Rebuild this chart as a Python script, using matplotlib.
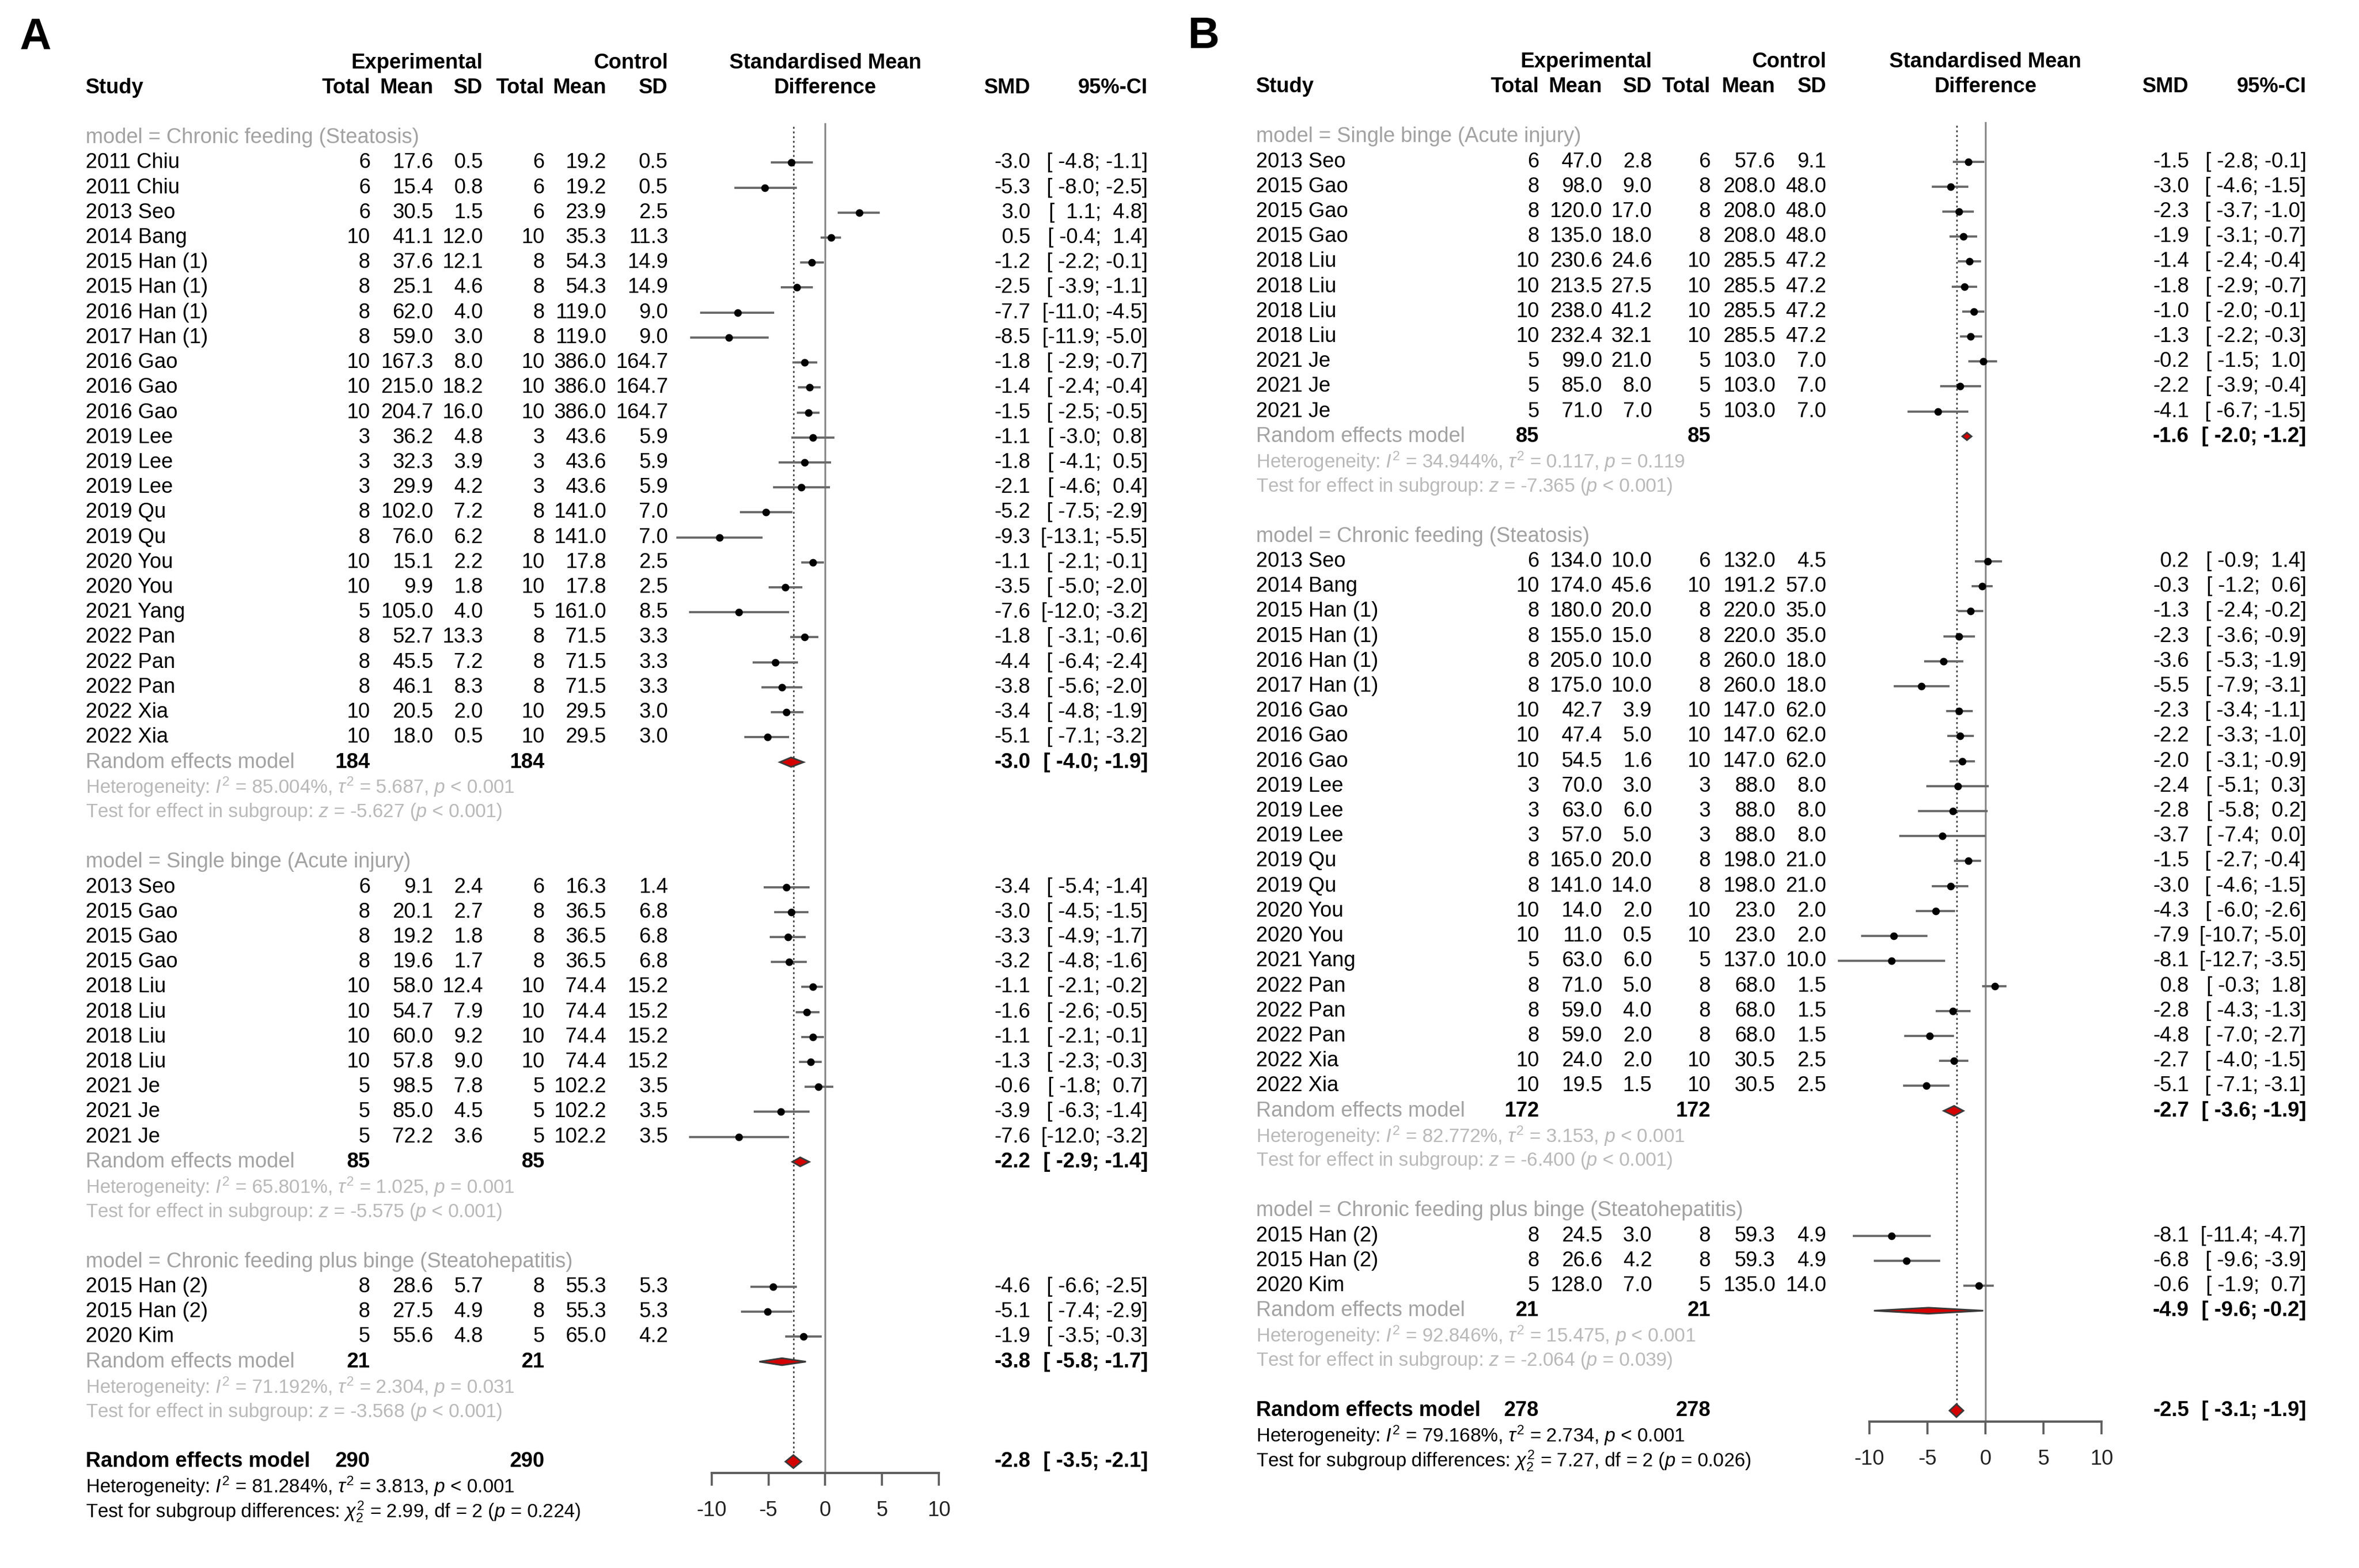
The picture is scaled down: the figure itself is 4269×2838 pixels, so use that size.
import matplotlib
matplotlib.use("Agg")
import matplotlib.pyplot as plt
from matplotlib.transforms import blended_transform_factory

plt.rcParams['font.family'] = ['Liberation Sans', 'DejaVu Sans']
plt.rcParams['mathtext.fontset'] = 'custom'
plt.rcParams['mathtext.rm'] = 'Liberation Sans'
plt.rcParams['mathtext.it'] = 'Liberation Sans:italic'
plt.rcParams['mathtext.bf'] = 'Liberation Sans:bold'
plt.rcParams['axes.unicode_minus'] = False

# ---------------- panel A data ----------------
a_groups = ["Chronic feeding (Steatosis)", "Single binge (Acute injury)",
            "Chronic feeding plus binge (Steatohepatitis)"]
a_sizes = [24, 11, 3]
a_study = ["2011 Chiu", "2011 Chiu", "2013 Seo", "2014 Bang", "2015 Han (1)", "2015 Han (1)",
           "2016 Han (1)", "2017 Han (1)", "2016 Gao", "2016 Gao", "2016 Gao", "2019 Lee",
           "2019 Lee", "2019 Lee", "2019 Qu", "2019 Qu", "2020 You", "2020 You", "2021 Yang",
           "2022 Pan", "2022 Pan", "2022 Pan", "2022 Xia", "2022 Xia",
           "2013 Seo", "2015 Gao", "2015 Gao", "2015 Gao", "2018 Liu", "2018 Liu", "2018 Liu",
           "2018 Liu", "2021 Je", "2021 Je", "2021 Je",
           "2015 Han (2)", "2015 Han (2)", "2020 Kim"]
a_n_e = [6, 6, 6, 10, 8, 8, 8, 8, 10, 10, 10, 3, 3, 3, 8, 8, 10, 10, 5, 8, 8, 8, 10, 10,
         6, 8, 8, 8, 10, 10, 10, 10, 5, 5, 5, 8, 8, 5]
a_mean_e = [17.6, 15.4, 30.5, 41.1, 37.6, 25.1, 62.0, 59.0, 167.3, 215.0, 204.7, 36.2, 32.3,
            29.9, 102.0, 76.0, 15.1, 9.9, 105.0, 52.7, 45.5, 46.1, 20.5, 18.0,
            9.1, 20.1, 19.2, 19.6, 58.0, 54.7, 60.0, 57.8, 98.5, 85.0, 72.2, 28.6, 27.5, 55.6]
a_sd_e = [0.5, 0.8, 1.5, 12.0, 12.1, 4.6, 4.0, 3.0, 8.0, 18.2, 16.0, 4.8, 3.9, 4.2, 7.2, 6.2,
          2.2, 1.8, 4.0, 13.3, 7.2, 8.3, 2.0, 0.5,
          2.4, 2.7, 1.8, 1.7, 12.4, 7.9, 9.2, 9.0, 7.8, 4.5, 3.6, 5.7, 4.9, 4.8]
a_n_c = [6, 6, 6, 10, 8, 8, 8, 8, 10, 10, 10, 3, 3, 3, 8, 8, 10, 10, 5, 8, 8, 8, 10, 10,
         6, 8, 8, 8, 10, 10, 10, 10, 5, 5, 5, 8, 8, 5]
a_mean_c = [19.2, 19.2, 23.9, 35.3, 54.3, 54.3, 119.0, 119.0, 386.0, 386.0, 386.0, 43.6, 43.6,
            43.6, 141.0, 141.0, 17.8, 17.8, 161.0, 71.5, 71.5, 71.5, 29.5, 29.5,
            16.3, 36.5, 36.5, 36.5, 74.4, 74.4, 74.4, 74.4, 102.2, 102.2, 102.2, 55.3, 55.3, 65.0]
a_sd_c = [0.5, 0.5, 2.5, 11.3, 14.9, 14.9, 9.0, 9.0, 164.7, 164.7, 164.7, 5.9, 5.9, 5.9, 7.0,
          7.0, 2.5, 2.5, 8.5, 3.3, 3.3, 3.3, 3.0, 3.0,
          1.4, 6.8, 6.8, 6.8, 15.2, 15.2, 15.2, 15.2, 3.5, 3.5, 3.5, 5.3, 5.3, 4.2]
a_smd = [-3.0, -5.3, 3.0, 0.5, -1.2, -2.5, -7.7, -8.5, -1.8, -1.4, -1.5, -1.1, -1.8, -2.1,
         -5.2, -9.3, -1.1, -3.5, -7.6, -1.8, -4.4, -3.8, -3.4, -5.1,
         -3.4, -3.0, -3.3, -3.2, -1.1, -1.6, -1.1, -1.3, -0.6, -3.9, -7.6, -4.6, -5.1, -1.9]
a_lo = [-4.8, -8.0, 1.1, -0.4, -2.2, -3.9, -11.0, -11.9, -2.9, -2.4, -2.5, -3.0, -4.1, -4.6,
        -7.5, -13.1, -2.1, -5.0, -12.0, -3.1, -6.4, -5.6, -4.8, -7.1,
        -5.4, -4.5, -4.9, -4.8, -2.1, -2.6, -2.1, -2.3, -1.8, -6.3, -12.0, -6.6, -7.4, -3.5]
a_hi = [-1.1, -2.5, 4.8, 1.4, -0.1, -1.1, -4.5, -5.0, -0.7, -0.4, -0.5, 0.8, 0.5, 0.4,
        -2.9, -5.5, -0.1, -2.0, -3.2, -0.6, -2.4, -2.0, -1.9, -3.2,
        -1.4, -1.5, -1.7, -1.6, -0.2, -0.5, -0.1, -0.3, 0.7, -1.4, -3.2, -2.5, -2.9, -0.3]
a_sub_n = [184, 85, 21]
a_sub_smd = [-3.0, -2.2, -3.8]
a_sub_lo = [-4.0, -2.9, -5.8]
a_sub_hi = [-1.9, -1.4, -1.7]
a_sub_i2 = ["85.004%", "65.801%", "71.192%"]
a_sub_tau2 = ["5.687", "1.025", "2.304"]
a_sub_p = ["< 0.001", "= 0.001", "= 0.031"]
a_sub_z = ["-5.627", "-5.575", "-3.568"]
a_sub_zp = ["< 0.001", "< 0.001", "< 0.001"]
a_tot_n = 290
a_tot = [-2.8, -3.5, -2.1]
a_tot_het = ["81.284%", "3.813", "< 0.001"]
a_tot_chi = ["2.99", "2", "0.224"]

# ---------------- panel B data ----------------
b_groups = ["Single binge (Acute injury)", "Chronic feeding (Steatosis)",
            "Chronic feeding plus binge (Steatohepatitis)"]
b_sizes = [11, 22, 3]
b_study = ["2013 Seo", "2015 Gao", "2015 Gao", "2015 Gao", "2018 Liu", "2018 Liu", "2018 Liu",
           "2018 Liu", "2021 Je", "2021 Je", "2021 Je",
           "2013 Seo", "2014 Bang", "2015 Han (1)", "2015 Han (1)", "2016 Han (1)",
           "2017 Han (1)", "2016 Gao", "2016 Gao", "2016 Gao", "2019 Lee", "2019 Lee",
           "2019 Lee", "2019 Qu", "2019 Qu", "2020 You", "2020 You", "2021 Yang", "2022 Pan",
           "2022 Pan", "2022 Pan", "2022 Xia", "2022 Xia",
           "2015 Han (2)", "2015 Han (2)", "2020 Kim"]
b_n_e = [6, 8, 8, 8, 10, 10, 10, 10, 5, 5, 5,
         6, 10, 8, 8, 8, 8, 10, 10, 10, 3, 3, 3, 8, 8, 10, 10, 5, 8, 8, 8, 10, 10,
         8, 8, 5]
b_mean_e = [47.0, 98.0, 120.0, 135.0, 230.6, 213.5, 238.0, 232.4, 99.0, 85.0, 71.0,
            134.0, 174.0, 180.0, 155.0, 205.0, 175.0, 42.7, 47.4, 54.5, 70.0, 63.0, 57.0,
            165.0, 141.0, 14.0, 11.0, 63.0, 71.0, 59.0, 59.0, 24.0, 19.5,
            24.5, 26.6, 128.0]
b_sd_e = [2.8, 9.0, 17.0, 18.0, 24.6, 27.5, 41.2, 32.1, 21.0, 8.0, 7.0,
          10.0, 45.6, 20.0, 15.0, 10.0, 10.0, 3.9, 5.0, 1.6, 3.0, 6.0, 5.0, 20.0, 14.0,
          2.0, 0.5, 6.0, 5.0, 4.0, 2.0, 2.0, 1.5,
          3.0, 4.2, 7.0]
b_n_c = [6, 8, 8, 8, 10, 10, 10, 10, 5, 5, 5,
         6, 10, 8, 8, 8, 8, 10, 10, 10, 3, 3, 3, 8, 8, 10, 10, 5, 8, 8, 8, 10, 10,
         8, 8, 5]
b_mean_c = [57.6, 208.0, 208.0, 208.0, 285.5, 285.5, 285.5, 285.5, 103.0, 103.0, 103.0,
            132.0, 191.2, 220.0, 220.0, 260.0, 260.0, 147.0, 147.0, 147.0, 88.0, 88.0, 88.0,
            198.0, 198.0, 23.0, 23.0, 137.0, 68.0, 68.0, 68.0, 30.5, 30.5,
            59.3, 59.3, 135.0]
b_sd_c = [9.1, 48.0, 48.0, 48.0, 47.2, 47.2, 47.2, 47.2, 7.0, 7.0, 7.0,
          4.5, 57.0, 35.0, 35.0, 18.0, 18.0, 62.0, 62.0, 62.0, 8.0, 8.0, 8.0, 21.0, 21.0,
          2.0, 2.0, 10.0, 1.5, 1.5, 1.5, 2.5, 2.5,
          4.9, 4.9, 14.0]
b_smd = [-1.5, -3.0, -2.3, -1.9, -1.4, -1.8, -1.0, -1.3, -0.2, -2.2, -4.1,
         0.2, -0.3, -1.3, -2.3, -3.6, -5.5, -2.3, -2.2, -2.0, -2.4, -2.8, -3.7, -1.5, -3.0,
         -4.3, -7.9, -8.1, 0.8, -2.8, -4.8, -2.7, -5.1,
         -8.1, -6.8, -0.6]
b_lo = [-2.8, -4.6, -3.7, -3.1, -2.4, -2.9, -2.0, -2.2, -1.5, -3.9, -6.7,
        -0.9, -1.2, -2.4, -3.6, -5.3, -7.9, -3.4, -3.3, -3.1, -5.1, -5.8, -7.4, -2.7, -4.6,
        -6.0, -10.7, -12.7, -0.3, -4.3, -7.0, -4.0, -7.1,
        -11.4, -9.6, -1.9]
b_hi = [-0.1, -1.5, -1.0, -0.7, -0.4, -0.7, -0.1, -0.3, 1.0, -0.4, -1.5,
        1.4, 0.6, -0.2, -0.9, -1.9, -3.1, -1.1, -1.0, -0.9, 0.3, 0.2, 0.0, -0.4, -1.5,
        -2.6, -5.0, -3.5, 1.8, -1.3, -2.7, -1.5, -3.1,
        -4.7, -3.9, 0.7]
b_sub_n = [85, 172, 21]
b_sub_smd = [-1.6, -2.7, -4.9]
b_sub_lo = [-2.0, -3.6, -9.6]
b_sub_hi = [-1.2, -1.9, -0.2]
b_sub_i2 = ["34.944%", "82.772%", "92.846%"]
b_sub_tau2 = ["0.117", "3.153", "15.475"]
b_sub_p = ["= 0.119", "< 0.001", "< 0.001"]
b_sub_z = ["-7.365", "-6.400", "-2.064"]
b_sub_zp = ["< 0.001", "< 0.001", "= 0.039"]
b_tot_n = 278
b_tot = [-2.5, -3.1, -1.9]
b_tot_het = ["79.168%", "2.734", "< 0.001"]
b_tot_chi = ["7.27", "2", "0.026"]

# ---------------- layout (reference units: 1568 x 1042) ----------------
W, H = 1568.0, 1042.0
DY = 16.6
FS = 9.1
FS_HET = 8.3
LBL = '#a2a2a2'
HET = '#b9b9b9'
RED = '#d40000'

panels = [
    dict(letter='A', lx=23.5, y0=91.5, f0=473.0, f1=624.0, sx=57.0,
         cols=[246, 288, 321, 362, 403, 444], smdx=685.0, cix=763.0,
         groups=a_groups, sizes=a_sizes, study=a_study, ne=a_n_e, me=a_mean_e, se=a_sd_e,
         nc=a_n_c, mc=a_mean_c, sc=a_sd_c, smd=a_smd, lo=a_lo, hi=a_hi,
         sub_n=a_sub_n, sub_smd=a_sub_smd, sub_lo=a_sub_lo, sub_hi=a_sub_hi,
         sub_i2=a_sub_i2, sub_tau2=a_sub_tau2, sub_p=a_sub_p, sub_z=a_sub_z, sub_zp=a_sub_zp,
         sub_h=[0.38, 0.36, 0.28], tot_n=a_tot_n, tot=a_tot, tot_het=a_tot_het,
         tot_chi=a_tot_chi),
    dict(letter='B', lx=800.0, y0=90.8, f0=1242.5, f1=1397.0, sx=835.0,
         cols=[1023, 1065, 1098, 1137, 1180, 1214], smdx=1455.0, cix=1533.0,
         groups=b_groups, sizes=b_sizes, study=b_study, ne=b_n_e, me=b_mean_e, se=b_sd_e,
         nc=b_n_c, mc=b_mean_c, sc=b_sd_c, smd=b_smd, lo=b_lo, hi=b_hi,
         sub_n=b_sub_n, sub_smd=b_sub_smd, sub_lo=b_sub_lo, sub_hi=b_sub_hi,
         sub_i2=b_sub_i2, sub_tau2=b_sub_tau2, sub_p=b_sub_p, sub_z=b_sub_z, sub_zp=b_sub_zp,
         sub_h=[0.3, 0.4, 0.24], tot_n=b_tot_n, tot=b_tot, tot_het=b_tot_het,
         tot_chi=b_tot_chi),
]

fig = plt.figure(figsize=(4269 / 300, 2838 / 300), dpi=300)


def draw(p):
    ax = fig.add_axes([p['f0'] / W, 0, (p['f1'] - p['f0']) / W, 1])
    ax.set_xlim(-10, 10)
    ax.set_ylim((H - p['y0']) / DY, -p['y0'] / DY)
    ax.patch.set_alpha(0)
    for s in ['top', 'left', 'right']:
        ax.spines[s].set_visible(False)
    ax.set_yticks([])
    tr = blended_transform_factory(fig.transFigure, ax.transData)

    def put(x, r, s, **kw):
        kw.setdefault('fontsize', FS)
        kw.setdefault('va', 'center')
        ax.text(x / W, r, s, transform=tr, **kw)

    lows = p['lo'] + p['sub_lo'] + [p['tot'][1]]
    highs = p['hi'] + p['sub_hi'] + [p['tot'][2]]
    wl = max(len(f'{v:.1f}') for v in lows)
    wh = max(len(f'{v:.1f}') for v in highs)

    def ci(l, h):
        return '[' + f'{l:.1f}'.rjust(wl) + '; ' + f'{h:.1f}'.rjust(wh) + ']'

    c = p['cols']
    # header
    put(p['lx'], -4.0, p['letter'], fontsize=19, fontweight='bold', ha='center')
    put(c[2], -3, 'Experimental', fontweight='bold', ha='right')
    put(c[5], -3, 'Control', fontweight='bold', ha='right')
    ax.text(0, -3, 'Standardised Mean', fontsize=FS, fontweight='bold', ha='center', va='center')
    ax.text(0, -2, 'Difference', fontsize=FS, fontweight='bold', ha='center', va='center')
    put(p['sx'], -2, 'Study', fontweight='bold', ha='left')
    for x, s in zip(c, ['Total', 'Mean', 'SD', 'Total', 'Mean', 'SD']):
        put(x, -2, s, fontweight='bold', ha='right')
    put(p['smdx'], -2, 'SMD', fontweight='bold', ha='right')
    put(p['cix'], -2, '95%-CI', fontweight='bold', ha='right')

    row = 0
    k = 0
    for g, name in enumerate(p['groups']):
        put(p['sx'], row, 'model = ' + name, color=LBL, ha='left')
        n = p['sizes'][g]
        for i in range(n):
            r = row + 1 + i
            put(p['sx'], r, p['study'][k], ha='left')
            vals = [f"{p['ne'][k]}", f"{p['me'][k]:.1f}", f"{p['se'][k]:.1f}",
                    f"{p['nc'][k]}", f"{p['mc'][k]:.1f}", f"{p['sc'][k]:.1f}"]
            for x, s in zip(c, vals):
                put(x, r, s, ha='right')
            put(p['smdx'], r, f"{p['smd'][k]:.1f}", ha='right')
            put(p['cix'], r, ci(p['lo'][k], p['hi'][k]), ha='right')
            ax.plot([p['lo'][k], p['hi'][k]], [r, r], color='#6a6a6a', lw=0.95,
                    solid_capstyle='butt', clip_on=False, zorder=3)
            ax.plot([p['smd'][k]], [r], marker='o', ms=2.3, color='black', clip_on=False,
                    zorder=4)
            k += 1
        r = row + n + 1
        put(p['sx'], r, 'Random effects model', color=LBL, ha='left')
        put(c[0], r, str(p['sub_n'][g]), fontweight='bold', ha='right')
        put(c[3], r, str(p['sub_n'][g]), fontweight='bold', ha='right')
        put(p['smdx'], r, f"{p['sub_smd'][g]:.1f}", fontweight='bold', ha='right')
        put(p['cix'], r, ci(p['sub_lo'][g], p['sub_hi'][g]), fontweight='bold', ha='right')
        hh = p['sub_h'][g] / 2
        ax.fill([p['sub_lo'][g], p['sub_smd'][g], p['sub_hi'][g], p['sub_smd'][g]],
                [r, r - hh, r, r + hh], facecolor=RED, edgecolor='#3a3a3a', lw=0.7,
                clip_on=False, zorder=4)
        put(p['sx'], r + 1, r'Heterogeneity: $I^2$ = ' + p['sub_i2'][g] + r', $\tau^2$ = '
            + p['sub_tau2'][g] + r', $p$ ' + p['sub_p'][g], color=HET, ha='left',
            fontsize=FS_HET)
        put(p['sx'], r + 2, r'Test for effect in subgroup: $z$ = ' + p['sub_z'][g]
            + r' ($p$ ' + p['sub_zp'][g] + ')', color=HET, ha='left', fontsize=FS_HET)
        row += n + 5

    # overall
    put(p['sx'], row, 'Random effects model', fontweight='bold', ha='left')
    put(c[0], row, str(p['tot_n']), fontweight='bold', ha='right')
    put(c[3], row, str(p['tot_n']), fontweight='bold', ha='right')
    est, lo, hi = p['tot']
    put(p['smdx'], row, f'{est:.1f}', fontweight='bold', ha='right')
    put(p['cix'], row, ci(lo, hi), fontweight='bold', ha='right')
    ax.fill([lo, est, hi, est], [row, row - 0.26, row, row + 0.26], facecolor=RED,
            edgecolor='#3a3a3a', lw=0.7, clip_on=False, zorder=4)
    put(p['sx'], row + 1, r'Heterogeneity: $I^2$ = ' + p['tot_het'][0] + r', $\tau^2$ = '
        + p['tot_het'][1] + r', $p$ ' + p['tot_het'][2], ha='left', fontsize=FS_HET)
    put(p['sx'], row + 2, r'Test for subgroup differences: $\chi^2_{' + p['tot_chi'][1]
        + '}$ = ' + p['tot_chi'][0] + ', df = ' + p['tot_chi'][1] + r' ($p$ = '
        + p['tot_chi'][2] + ')', ha='left', fontsize=FS_HET)

    axis_row = row + 0.45
    ax.plot([0, 0], [-0.55, axis_row], color='#8a8a8a', lw=0.8, zorder=2)
    ax.plot([est, est], [-0.45, row], color='#333333', lw=0.6, ls=(0, (1.4, 2.0)), zorder=2)
    ax.spines['bottom'].set_position(('data', axis_row))
    ax.spines['bottom'].set_color('#5e5e5e')
    ax.spines['bottom'].set_linewidth(1.0)
    ax.set_xticks([-10, -5, 0, 5, 10])
    ax.tick_params(axis='x', length=5.5, width=0.9, pad=6.5, labelsize=FS, color='#5e5e5e',
                   labelcolor='#222222')


for p in panels:
    draw(p)

fig.savefig('out.png', dpi=300, facecolor='white')
